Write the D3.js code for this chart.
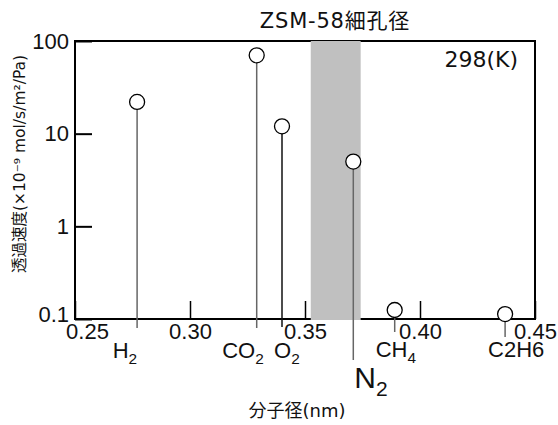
<!DOCTYPE html>
<html>
<head>
<meta charset="utf-8">
<script src="https://cdn.jsdelivr.net/npm/d3@7"></script>
<style>
  body { margin: 0; background: #fff; }
  svg { display: block; }
  .num { font-family: "Liberation Sans", Arial, sans-serif; }
  .jp { font-family: "DejaVu Sans", "Noto Sans CJK JP", sans-serif; }
</style>
</head>
<body>
<svg id="chart" width="558" height="425"></svg>
<script>
// data
var gases = ['H2', 'CO2', 'O2', 'N2', 'CH4', 'C2H6'];
var diameters = [0.277, 0.329, 0.340, 0.371, 0.389, 0.437];   // nm
var permeance = [22, 70, 12, 5.0, 0.125, 0.113];               // x10^-9 mol/s/m2/Pa
var poreRange = [0.3525, 0.3742];                              // ZSM-58 pore size
var xTicks = [0.25, 0.30, 0.35, 0.40, 0.45];
var yTicks = [0.1, 1, 10, 100];

// label layout: [text, subscript, anchor, dx, baseline, size, stem end]
var labelLayout = {
    H2:   ['H', '2', 'end', 0, 358, 22, 328],
    CO2:  ['CO', '2', 'end', 7, 358, 22, 328],
    O2:   ['O', '2', 'start', -8, 358, 22, 327],
    N2:   ['N', '2', 'start', 1, 388, 30, 360],
    CH4:  ['CH', '4', 'start', -19, 357, 22, 332],
    C2H6: ['C2H6', '', 'start', -17, 357, 22, 337]
};

var svg = d3.select('#chart');
// note: "top" is taken by window.top, hence the prefix
var plotL = 75, plotR = 535, plotT = 41, plotB = 319;

var x = d3.scaleLinear().domain([0.25, 0.45]).range([plotL, plotR]);
var y = d3.scaleLog().domain([0.1, 100]).range([plotB, plotT]);

// frame
svg.append('rect')
    .attr('x', plotL).attr('y', plotT)
    .attr('width', plotR - plotL).attr('height', plotB - plotT)
    .attr('fill', 'none').attr('stroke', '#000').attr('stroke-width', 2);

var xAxis = svg.append('g')
    .attr('class', 'num')
    .attr('transform', 'translate(0,' + plotB + ')')
    .call(d3.axisBottom(x).tickValues(xTicks).tickFormat(d3.format('.2f'))
        .tickSizeInner(-18).tickSizeOuter(0).tickPadding(4));
xAxis.select('.domain').remove();
xAxis.selectAll('line').attr('stroke', '#000').attr('stroke-width', 1.5);
xAxis.selectAll('text').attr('font-size', 22).attr('fill', '#111');
xAxis.selectAll('text').filter(d => d === 0.25).attr('dx', 12);

var yAxis = svg.append('g')
    .attr('class', 'num')
    .attr('transform', 'translate(' + plotL + ',0)')
    .call(d3.axisLeft(y).tickValues(yTicks).tickFormat(d => String(d))
        .tickSizeInner(-17).tickSizeOuter(0).tickPadding(6));
yAxis.select('.domain').remove();
yAxis.selectAll('line').attr('stroke', '#000').attr('stroke-width', 2);
yAxis.selectAll('text').attr('font-size', 22).attr('fill', '#111');
yAxis.selectAll('text').filter(d => d === 0.1).attr('dy', '0.1em');

// pore band sits over the frame
svg.append('rect')
    .attr('x', x(poreRange[0])).attr('y', plotT)
    .attr('width', x(poreRange[1]) - x(poreRange[0]))
    .attr('height', plotB - plotT + 1)
    .attr('fill', '#c0c0c0');

var points = gases.map((g, i) => ({ gas: g, d: diameters[i], p: permeance[i] }));

svg.selectAll('line.stem')
    .data(points)
    .enter().append('line')
        .attr('class', 'stem')
        .attr('x1', d => x(d.d)).attr('x2', d => x(d.d))
        .attr('y1', d => y(d.p))
        .attr('y2', d => labelLayout[d.gas][6])
        .attr('stroke', d => d.gas === 'O2' ? '#111' : '#666')
        .attr('stroke-width', 1.5);

svg.selectAll('circle.pt')
    .data(points)
    .enter().append('circle')
        .attr('class', 'pt')
        .attr('cx', d => x(d.d))
        .attr('cy', d => y(d.p))
        .attr('r', 7.5)
        .attr('fill', '#fff')
        .attr('stroke', '#000')
        .attr('stroke-width', 1.3);

var labels = svg.selectAll('text.gas')
    .data(points)
    .enter().append('text')
        .attr('class', 'gas num')
        .attr('x', d => x(d.d) + labelLayout[d.gas][3])
        .attr('y', d => labelLayout[d.gas][4])
        .attr('text-anchor', d => labelLayout[d.gas][2])
        .attr('font-size', d => labelLayout[d.gas][5])
        .attr('fill', '#111');
labels.append('tspan').text(d => labelLayout[d.gas][0]);
labels.filter(d => labelLayout[d.gas][1] !== '')
    .append('tspan')
        .attr('font-size', d => labelLayout[d.gas][5] * 0.7)
        .attr('dy', d => labelLayout[d.gas][5] * 0.25)
        .text(d => labelLayout[d.gas][1]);

// texts
svg.append('text')
    .attr('class', 'jp')
    .attr('x', 335).attr('y', 28)
    .attr('text-anchor', 'middle')
    .attr('font-size', 21)
    .attr('letter-spacing', 0.8)
    .attr('fill', '#111')
    .text('ZSM-58細孔径');

svg.append('text')
    .attr('class', 'jp')
    .attr('x', 518).attr('y', 67)
    .attr('text-anchor', 'end')
    .attr('font-size', 22)
    .attr('fill', '#111')
    .text('298(K)');

svg.append('text')
    .attr('class', 'jp')
    .attr('x', 297).attr('y', 417)
    .attr('text-anchor', 'middle')
    .attr('font-size', 18)
    .attr('fill', '#111')
    .text('分子径(nm)');

svg.append('text')
    .attr('class', 'jp')
    .attr('transform', 'translate(25,164) rotate(-90)')
    .attr('text-anchor', 'middle')
    .attr('font-size', 15.5)
    .attr('fill', '#111')
    .text('透過速度(×10⁻⁹ mol/s/m²/Pa)');
</script>
</body>
</html>
